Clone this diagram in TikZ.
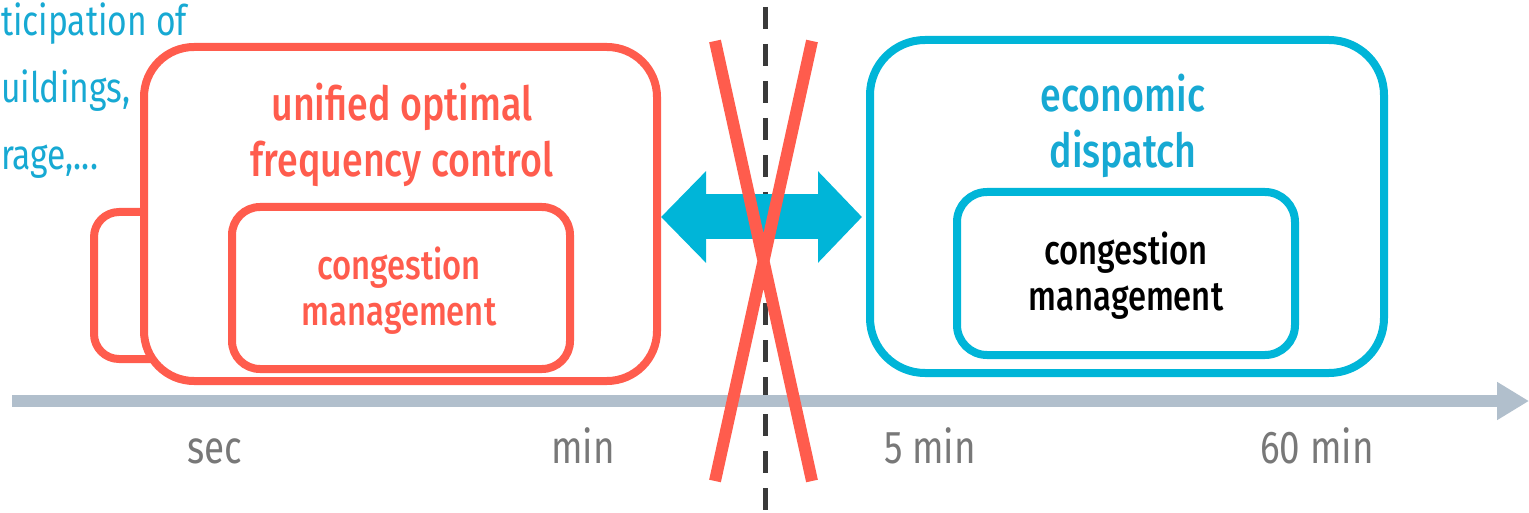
\documentclass[tikz,border=0pt]{standalone}
\usepackage{fontspec}
\setmainfont{Fira Sans}[FakeStretch=0.8, BoldFont={Fira Sans Medium}]
\usepackage{tikz}
\usetikzlibrary{arrows.meta,positioning,calc}
\usepackage{xcolor}
\definecolor{coral}{HTML}{FF5C4D}
\definecolor{skyblue}{HTML}{00B5D8}
\definecolor{titleblue}{HTML}{17A9D3}
\definecolor{axisgrey}{HTML}{B1BFCC}
\definecolor{labelgrey}{HTML}{787878}
\definecolor{dashgrey}{HTML}{3A3A3A}

\begin{document}
\begin{tikzpicture}[x=1pt, y=-1pt, line join=round]
    \tikzstyle{outer box} = [draw, line width=8pt, fill=white, inner sep=0pt, rounded corners=50pt]
    \tikzstyle{inner box} = [draw, line width=8pt, fill=white, inner sep=0pt, rounded corners=28pt]
    \tikzstyle{title} = [anchor=base, align=center, inner sep=0pt, font=\bfseries\fontsize{47}{56}\selectfont]
    \tikzstyle{sub title} = [anchor=base, align=center, inner sep=0pt, font=\bfseries\fontsize{41}{46}\selectfont]
    \tikzstyle{time label} = [anchor=base, inner sep=0pt, text=labelgrey, font=\fontsize{46}{46}\selectfont]
    \useasboundingbox (0,0) rectangle (1529,513);
    \clip (0,0) rectangle (1529,513);
    % side text, cut off at the left edge
    \node[anchor=base west, align=left, inner sep=0pt, text=titleblue, font=\fontsize{42}{67}\selectfont] (agents) at (1,170) {ticipation of\\uildings,\\rage,...};
    % dashed separator
    \draw[dashgrey, line width=5pt, dash pattern=on 22pt off 15pt] (765,7) -- (765,513);
    % time axis
    \coordinate (tstart) at (12,401);
    \coordinate (tend) at (1529,401);
    \draw[axisgrey, line width=12pt, -{Triangle[length=32pt, width=36pt]}] (tstart) -- (tend);
    \node[time label] (sec) at (215,463) {sec};
    \node[time label] (min) at (583,463) {min};
    \node[time label] (fivemin) at (930,463) {5 min};
    \node[time label] (sixtymin) at (1317,463) {60 min};
    % fast control boxes
    \node[outer box, draw=coral, rounded corners=25pt, minimum width=106pt, minimum height=147pt] (backbox) at (147,285.5) {};
    \node[outer box, draw=coral, minimum width=513pt, minimum height=334pt] (redbox) at (400.5,214) {};
    \node[inner box, draw=coral, minimum width=338pt, minimum height=162pt] (redcm) at (401,288) {};
    \node[title, text=coral] (uofc) at (402,177) {unified optimal\\frequency control};
    \node[sub title, text=coral] (redcmtext) at (399,325) {congestion\\management};
    % dispatch boxes
    \node[outer box, draw=skyblue, rounded corners=55pt, minimum width=514pt, minimum height=333pt] (bluebox) at (1127,206.5) {};
    \node[inner box, draw=skyblue, rounded corners=30pt, minimum width=338pt, minimum height=163pt] (bluecm) at (1126,273.5) {};
    \node[title, text=titleblue] (ed) at (1123,168) {economic\\dispatch};
    \node[sub title, text=black] (bluecmtext) at (1126,310) {congestion\\management};
    % coupling arrow, crossed out
    \draw[skyblue, line width=45pt, {Triangle[length=45pt, width=89pt]}-{Triangle[length=44pt, width=89pt]}, shorten >=4pt] (redbox.east |- 0,217) -- (bluebox.west |- 0,217);
    \draw[coral, line width=12pt] (715,41) -- (812,481) (812,41) -- (715,481);
\end{tikzpicture}
\end{document}
